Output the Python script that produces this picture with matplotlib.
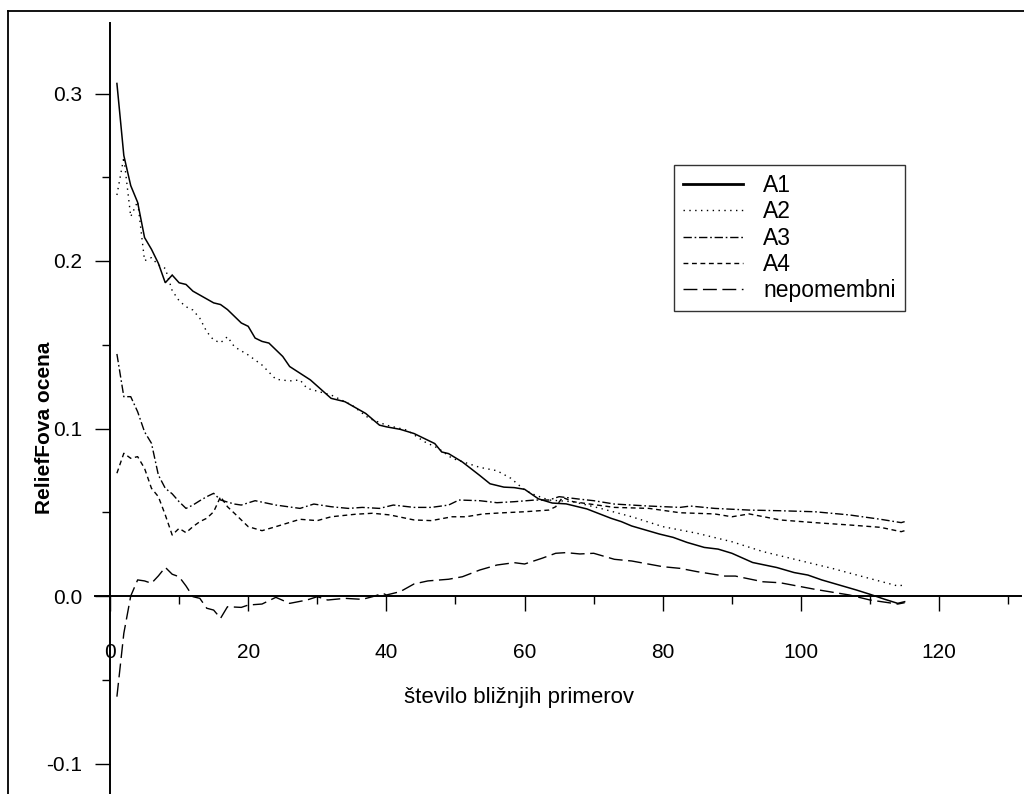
"""ReliefF estimates vs. number of nearest neighbours (A1..A4 + irrelevant attrs)."""

import matplotlib
matplotlib.use("Agg")
import matplotlib.pyplot as plt
from matplotlib.lines import Line2D
from matplotlib.ticker import MultipleLocator, FormatStrFormatter

plt.rcParams["font.family"] = ["Liberation Sans", "DejaVu Sans"]
plt.rcParams["axes.unicode_minus"] = False
plt.rcParams["lines.scale_dashes"] = False

# ======================== Data ========================

a1_x = [1, 2, 3, 4, 5, 6, 7, 8, 9, 10, 11, 12, 15, 16, 17, 19, 20, 21, 22, 23,
        25, 26, 27.5, 29, 32, 34, 37, 39, 40, 42, 44, 47, 48, 49, 51, 53.5, 55,
        57, 58.5, 60, 62, 64, 66, 69, 72.5, 74, 75.5, 79.5, 81.5, 83.5, 86, 88,
        90, 93, 96.5, 99, 101, 103, 105, 108, 110, 112, 114, 115]
a1_y = [0.306, 0.263, 0.245, 0.235, 0.214, 0.207, 0.1986, 0.187, 0.1916, 0.187,
        0.186, 0.182, 0.175, 0.174, 0.171, 0.163, 0.161, 0.154, 0.152, 0.151,
        0.143, 0.137, 0.133, 0.129, 0.118, 0.116, 0.109, 0.102, 0.101, 0.0995,
        0.097, 0.091, 0.086, 0.085, 0.080, 0.072, 0.067, 0.065, 0.0647, 0.0637,
        0.058, 0.0555, 0.055, 0.052, 0.0464, 0.0444, 0.0418, 0.037, 0.035,
        0.032, 0.029, 0.028, 0.0255, 0.020, 0.017, 0.014, 0.0125, 0.0096,
        0.0072, 0.0036, 0.001, -0.0018, -0.0044, -0.0034]

a2_x = [1, 2, 3, 4, 5, 6, 7, 8, 9, 10, 11, 12, 13, 14, 15, 16, 17, 18, 20, 22,
        24, 26, 27.5, 28.5, 32, 35, 37.5, 40, 43, 45.5, 47.5, 49.5, 51, 53.5,
        56, 58, 60, 61.5, 63.5, 67, 71, 75.5, 80, 85, 90, 94.5, 99.5, 104.5,
        109, 114, 115]
a2_y = [0.2394, 0.262, 0.2265, 0.2355, 0.2002, 0.202, 0.1976, 0.1956, 0.1823,
        0.1763, 0.1727, 0.1707, 0.1658, 0.1578, 0.1528, 0.1512, 0.1548, 0.1488,
        0.1439, 0.1379, 0.1294, 0.1284, 0.129, 0.124, 0.120, 0.114, 0.106,
        0.102, 0.099, 0.0921, 0.0882, 0.0822, 0.0802, 0.0768, 0.0748, 0.0703,
        0.0633, 0.0603, 0.0573, 0.0563, 0.0523, 0.0473, 0.0414, 0.0374, 0.0324,
        0.0265, 0.0215, 0.0165, 0.0115, 0.006, 0.0066]

a3_x = [1, 2, 3, 4, 5, 6, 7, 8, 9, 10, 11, 12, 13, 14, 15, 16, 18, 19, 21, 24,
        27.5, 29.5, 32, 34.5, 36.5, 39, 41, 44, 46.5, 49, 50.5, 53.5, 56, 58.5,
        61.5, 63.5, 65, 68, 70, 73, 78, 82.5, 84, 87.5, 92.5, 97, 102, 107,
        111.5, 114.5, 115]
a3_y = [0.1445, 0.119, 0.119, 0.110, 0.098, 0.0912, 0.0722, 0.0643, 0.061,
        0.0563, 0.0523, 0.0543, 0.0569, 0.0593, 0.0613, 0.0573, 0.0549, 0.0543,
        0.0569, 0.0543, 0.0523, 0.0549, 0.0533, 0.0523, 0.0529, 0.0523, 0.0543,
        0.0529, 0.0529, 0.0543, 0.0573, 0.0569, 0.0557, 0.0563, 0.0573, 0.0573,
        0.0593, 0.0578, 0.0569, 0.0549, 0.0537, 0.0529, 0.0537, 0.0523, 0.0513,
        0.0509, 0.0503, 0.0484, 0.0458, 0.0438, 0.0444]

a4_x = [1, 2, 3, 4, 5, 6, 7, 8, 9, 10, 11, 12, 13, 14, 15, 16, 17, 18, 20, 22,
        24, 27.5, 30, 32, 35.5, 38, 40.5, 44, 46.5, 49.5, 51.5, 54, 57, 60,
        63.5, 64.5, 65.5, 67, 70.5, 73, 78, 82.5, 87.5, 90, 92.5, 97, 102, 107,
        111.5, 114.5, 115]
a4_y = [0.0733, 0.0852, 0.0822, 0.0832, 0.0762, 0.0643, 0.0593, 0.0484, 0.0364,
        0.0404, 0.0378, 0.0414, 0.0444, 0.0464, 0.0503, 0.0593, 0.0533, 0.0494,
        0.0414, 0.039, 0.0414, 0.0458, 0.045, 0.0473, 0.0488, 0.0494, 0.0484,
        0.0454, 0.045, 0.0473, 0.0473, 0.049, 0.0497, 0.0503, 0.0513, 0.0533,
        0.0589, 0.0563, 0.0543, 0.0529, 0.0523, 0.0497, 0.049, 0.0473, 0.049,
        0.0454, 0.0438, 0.0424, 0.041, 0.0384, 0.039]

nep_x = [1, 2, 3, 4, 5, 6, 7, 8, 9, 10, 11, 12, 13, 14, 15, 16, 17, 19, 20, 22,
         24, 26, 28.5, 30, 31.5, 34, 36.5, 38, 39.5, 40, 42, 44, 46, 49, 51,
         53.5, 56, 58.5, 60, 62.5, 64.5, 66, 68, 70, 73, 75.5, 80, 82.5, 85,
         89, 90.5, 94.5, 97, 102, 107, 110, 114, 115]
nep_y = [-0.0601, -0.0223, 0.0, 0.0096, 0.009, 0.0076, 0.012, 0.0171, 0.013,
         0.0115, 0.006, -0.0004, -0.0014, -0.0073, -0.0084, -0.0133, -0.0064,
         -0.0068, -0.0054, -0.0048, -0.0008, -0.0044, -0.0024, -0.0004,
         -0.0024, -0.0014, -0.002, -0.0004, 0.0016, 0.0006, 0.0026, 0.0072,
         0.009, 0.010, 0.0115, 0.0155, 0.0185, 0.0199, 0.0191, 0.0225, 0.0255,
         0.0259, 0.0251, 0.0255, 0.0219, 0.0209, 0.0175, 0.0165, 0.0145,
         0.0119, 0.0119, 0.0085, 0.0079, 0.004, 0.0006, -0.0024, -0.0048,
         -0.004]

labels = ["A1", "A2", "A3", "A4", "nepomembni"]
x_ticks = [0, 20, 40, 60, 80, 100, 120]
y_ticks = [-0.1, 0.0, 0.1, 0.2, 0.3]

# dash patterns in points
styles = {
    "A1": dict(ls="-", lw=1.1),
    "A2": dict(ls=(0, (1, 3.2)), lw=1.0),
    "A3": dict(ls=(0, (6, 2, 1.2, 2)), lw=1.0),
    "A4": dict(ls=(0, (3.5, 2.6)), lw=1.0),
    "nepomembni": dict(ls=(0, (10, 4)), lw=1.0),
}


def main():
    W, H = 1024, 794
    fig = plt.figure(figsize=(W / 100, H / 100), dpi=100)

    # axes: x=0 at px 110, 6.91 px/unit; y=0 at px 596, 1675 px/unit
    left_px, right_px, top_px = 95, 1021, 23
    ax = fig.add_axes([left_px / W, 0, (right_px - left_px) / W, 1 - top_px / H])
    ax.set_xlim((left_px - 110) / 6.91, (right_px - 110) / 6.91)
    ax.set_ylim((596 - H) / 1675, (596 - top_px) / 1675)
    ax.patch.set_alpha(0)

    series = [(a1_x, a1_y), (a2_x, a2_y), (a3_x, a3_y), (a4_x, a4_y), (nep_x, nep_y)]
    for name, (xs, ys) in zip(labels, series):
        ax.plot(xs, ys, color="black", solid_joinstyle="miter",
                dash_capstyle="butt", **styles[name])

    for s in ("top", "right"):
        ax.spines[s].set_visible(False)
    ax.spines["left"].set_position(("data", 0))
    ax.spines["bottom"].set_position(("data", 0))
    ax.spines["left"].set_linewidth(1.4)
    ax.spines["bottom"].set_linewidth(1.4)

    ax.set_xticks(x_ticks)
    ax.set_xticklabels([str(v) for v in x_ticks])
    ax.xaxis.set_minor_locator(MultipleLocator(10))
    ax.set_yticks(y_ticks)
    ax.yaxis.set_major_formatter(FormatStrFormatter("%.1f"))
    ax.yaxis.set_minor_locator(MultipleLocator(0.05))
    ax.tick_params(axis="x", which="major", direction="out", length=11, width=1,
                   pad=23, labelsize=15)
    ax.tick_params(axis="x", which="minor", direction="out", length=6, width=1)
    ax.tick_params(axis="y", which="major", direction="out", length=11, width=1,
                   pad=9, labelsize=15)
    ax.tick_params(axis="y", which="minor", direction="out", length=6, width=1)

    fig.text(519 / W, 1 - 697 / H, "število bližnjih primerov", ha="center",
             va="center", fontsize=16)
    fig.text(45 / W, 1 - 428 / H, "ReliefFova ocena", ha="center", va="center",
             rotation=90, fontsize=15, fontweight="bold")

    # legend
    handles = []
    for name in labels:
        st = dict(styles[name])
        if name == "A1":
            st["lw"] = 2.0
        handles.append(Line2D([], [], color="black", **st))
    leg = fig.legend(handles, labels, loc="upper left",
                     bbox_to_anchor=(674 / W, 1 - 165 / H), fontsize=16.5,
                     frameon=True, fancybox=False, shadow=False,
                     handlelength=2.6, handletextpad=0.9, labelspacing=0.14,
                     borderpad=0.4, borderaxespad=0)
    leg.get_frame().set_edgecolor("black")
    leg.get_frame().set_linewidth(1.0)

    # outer frame (cut off on right and bottom)
    fig.add_artist(Line2D([8 / W, 8 / W], [0, 1 - 11 / H], color="black", lw=1.3,
                          transform=fig.transFigure))
    fig.add_artist(Line2D([8 / W, 1], [1 - 11 / H, 1 - 11 / H], color="black", lw=1.3,
                          transform=fig.transFigure))

    fig.savefig("out.png", dpi=100)
    plt.close(fig)


if __name__ == "__main__":
    main()
